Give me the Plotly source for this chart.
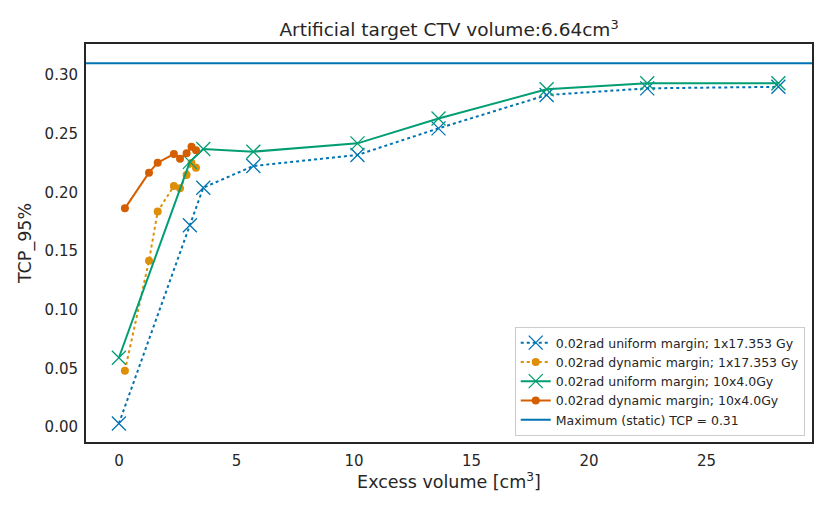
import plotly.graph_objects as go

# Data
uni_single_x = [0.0, 3.02, 3.59, 5.72, 10.15, 13.6, 18.2, 22.48, 28.06]
uni_single_y = [0.003, 0.172, 0.204, 0.2225, 0.2319, 0.2546, 0.283, 0.2887, 0.290]

dyn_single_x = [0.255, 1.28, 1.65, 2.34, 2.6, 2.88, 3.09, 3.28]
dyn_single_y = [0.048, 0.1418, 0.1836, 0.2055, 0.2035, 0.2148, 0.225, 0.221]

uni_frac_x = [0.0, 3.02, 3.59, 5.72, 10.15, 13.6, 18.2, 22.48, 28.06]
uni_frac_y = [0.059, 0.226, 0.237, 0.2347, 0.2418, 0.263, 0.2879, 0.293, 0.293]

dyn_frac_x = [0.255, 1.28, 1.65, 2.34, 2.6, 2.88, 3.09, 3.28]
dyn_frac_y = [0.1864, 0.2168, 0.2253, 0.2327, 0.2287, 0.2333, 0.239, 0.236]

max_tcp = 0.31

names = [
    "0.02rad uniform margin; 1x17.353 Gy",
    "0.02rad dynamic margin; 1x17.353 Gy",
    "0.02rad uniform margin; 10x4.0Gy",
    "0.02rad dynamic margin; 10x4.0Gy",
    "Maximum (static) TCP = 0.31",
]

x_ticks = [0, 5, 10, 15, 20, 25]
y_ticks = [0.00, 0.05, 0.10, 0.15, 0.20, 0.25, 0.30]

X_RANGE = [-1.4, 29.49]
Y_RANGE = [-0.0128, 0.3265]

C_BLUE = "#0173b2"
C_ORANGE = "#de8f05"
C_GREEN = "#029e73"
C_RED = "#d55e00"
TXT = "#262626"

fig = go.Figure()

fig.add_trace(go.Scatter(
    x=uni_single_x, y=uni_single_y, name=names[0], mode="lines+markers",
    line=dict(color=C_BLUE, width=2, dash="dot"),
    marker=dict(symbol="x-thin-open", size=14, color=C_BLUE, line=dict(width=1.3, color=C_BLUE)),
))
fig.add_trace(go.Scatter(
    x=dyn_single_x, y=dyn_single_y, name=names[1], mode="lines+markers",
    line=dict(color=C_ORANGE, width=2, dash="dot"),
    marker=dict(symbol="circle", size=8, color=C_ORANGE),
))
fig.add_trace(go.Scatter(
    x=uni_frac_x, y=uni_frac_y, name=names[2], mode="lines+markers",
    line=dict(color=C_GREEN, width=2),
    marker=dict(symbol="x-thin-open", size=14, color=C_GREEN, line=dict(width=1.3, color=C_GREEN)),
))
fig.add_trace(go.Scatter(
    x=dyn_frac_x, y=dyn_frac_y, name=names[3], mode="lines+markers",
    line=dict(color=C_RED, width=2),
    marker=dict(symbol="circle", size=8, color=C_RED),
))
fig.add_trace(go.Scatter(
    x=X_RANGE, y=[max_tcp, max_tcp], name=names[4], mode="lines",
    line=dict(color=C_BLUE, width=2),
))

# The page body adds an 8px offset; the figure is sized so the plot area
# lands at 86..812 x 44..442 in the 830x513 window.
fig.update_layout(
    width=814, height=497,
    margin=dict(l=78, r=10, t=36, b=63, autoexpand=False),
    paper_bgcolor="white", plot_bgcolor="white",
    font=dict(family="DejaVu Sans", size=15, color=TXT),
    title=dict(text="Artificial target CTV volume:6.64cm<sup>3</sup>",
               x=(449 - 8) / 814, xanchor="center", y=1 - (30 - 8) / 497, yanchor="middle",
               font=dict(size=18.5, color=TXT)),
    showlegend=True,
    legend=dict(x=0.990, y=0.015, xanchor="right", yanchor="bottom",
                bgcolor="white", bordercolor="#cccccc", borderwidth=1,
                font=dict(size=12.5, color=TXT), tracegroupgap=0),
)

fig.update_xaxes(
    range=X_RANGE, tickvals=x_ticks, ticktext=[str(v) for v in x_ticks],
    showgrid=False, zeroline=False, showline=True, linecolor=TXT, linewidth=2,
    mirror=True, ticks="", ticklen=0, automargin=False, tickfont=dict(size=15),
    ticklabelstandoff=4,
    title=dict(text="Excess volume [cm<sup>3</sup>]", font=dict(size=17.5, color=TXT), standoff=2),
)
fig.update_yaxes(
    range=Y_RANGE, tickvals=y_ticks, ticktext=[f"{v:.2f}" for v in y_ticks],
    showgrid=False, zeroline=False, showline=True, linecolor=TXT, linewidth=2,
    mirror=True, ticks="", ticklen=0, automargin=False, tickfont=dict(size=15),
    ticklabelstandoff=3,
    title=dict(text="TCP_95%", font=dict(size=17.5, color=TXT), standoff=8),
)

fig.write_html("out.html")
